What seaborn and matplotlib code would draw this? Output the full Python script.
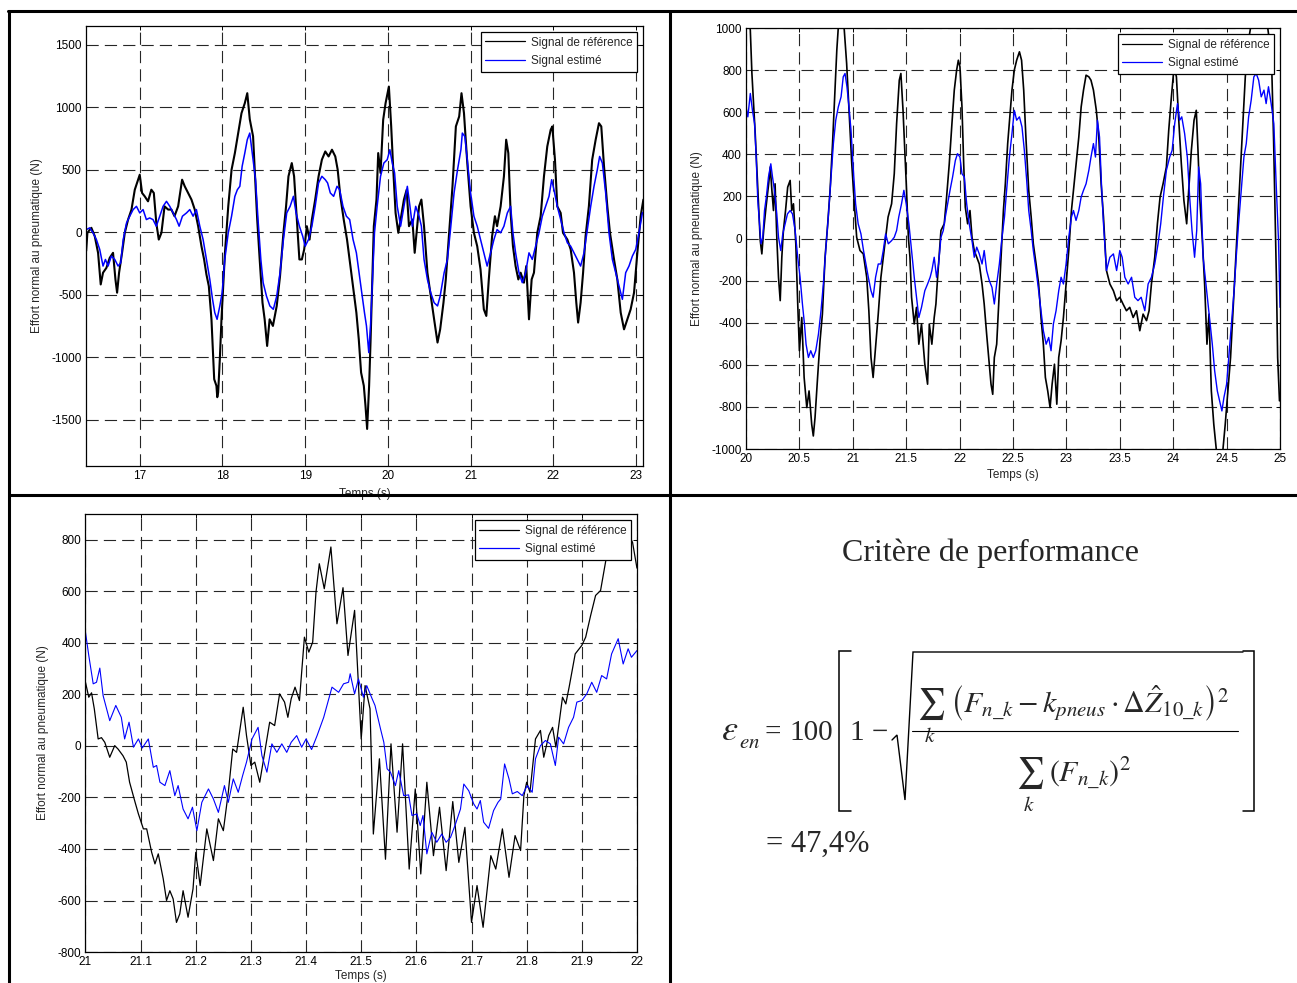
import numpy as np
import matplotlib
matplotlib.use("Agg")
import matplotlib.pyplot as plt
from matplotlib.lines import Line2D
import seaborn as sns

sns.set_style("white")
plt.rcParams['font.family'] = ['Liberation Sans', 'DejaVu Sans']
plt.rcParams['axes.unicode_minus'] = False
plt.rcParams['mathtext.fontset'] = 'stix'

LBL_REF = 'Signal de référence'
LBL_EST = 'Signal estimé'
YLABEL = 'Effort normal au pneumatique (N)'
XLABEL = 'Temps (s)'

# ---------------- panel 1 : 16.35 - 23.1 s ----------------
p1_ref_t = [16.352, 16.367, 16.415, 16.456, 16.496, 16.528, 16.556, 16.597, 16.637, 16.677,
            16.706, 16.726, 16.75, 16.786, 16.819, 16.859, 16.9, 16.94, 16.98, 17.0,
            17.028, 17.06, 17.1, 17.14, 17.17, 17.2, 17.23, 17.262, 17.3, 17.343,
            17.383, 17.42, 17.464, 17.512, 17.544, 17.585, 17.625, 17.665, 17.706, 17.746,
            17.778, 17.806, 17.835, 17.867, 17.9, 17.927, 17.937, 17.948, 17.968, 17.988,
            18.03, 18.07, 18.11, 18.15, 18.19, 18.23, 18.27, 18.3, 18.33, 18.37,
            18.39, 18.42, 18.45, 18.484, 18.51, 18.54, 18.57, 18.61, 18.656, 18.696,
            18.737, 18.769, 18.798, 18.838, 18.866, 18.899, 18.93, 18.96, 18.988, 19.02,
            19.053, 19.081, 19.121, 19.162, 19.202, 19.243, 19.283, 19.324, 19.364, 19.393,
            19.425, 19.466, 19.506, 19.547, 19.587, 19.619, 19.648, 19.676, 19.709, 19.729,
            19.749, 19.773, 19.79, 19.81, 19.83, 19.862, 19.883, 19.911, 19.943, 19.972,
            20.012, 20.04, 20.065, 20.093, 20.126, 20.154, 20.194, 20.227, 20.255, 20.296,
            20.324, 20.377, 20.405, 20.437, 20.478, 20.518, 20.559, 20.6, 20.632, 20.672,
            20.7, 20.741, 20.781, 20.822, 20.862, 20.89, 20.92, 20.96, 21.0, 21.04,
            21.08, 21.12, 21.16, 21.19, 21.22, 21.26, 21.294, 21.32, 21.363, 21.403,
            21.43, 21.456, 21.484, 21.512, 21.544, 21.577, 21.605, 21.645, 21.673, 21.706,
            21.738, 21.766, 21.806, 21.847, 21.887, 21.927, 21.968, 21.988, 22.02, 22.048,
            22.089, 22.117, 22.17, 22.21, 22.25, 22.278, 22.3, 22.33, 22.36, 22.39,
            22.43, 22.47, 22.512, 22.552, 22.58, 22.613, 22.653, 22.685, 22.734, 22.774,
            22.815, 22.855, 22.895, 22.935, 22.976, 23.016, 23.056, 23.089]
p1_ref_v = [-150, -5, 35, -32, -165, -418, -324, -285, -205, -165,
            -378, -484, -324, -165, -5, 101, 181, 340, 420, 460,
            314, 287, 247, 340, 314, 74, -59, -5, 207, 181,
            181, 128, 207, 420, 367, 314, 261, 181, 48, -112,
            -218, -338, -431, -697, -1176, -1229, -1320, -1282, -1016, -697,
            -165, 207, 500, 633, 793, 952, 1032, 1112, 904, 767,
            500, 101, -218, -564, -697, -910, -697, -750, -590, -351,
            -5, 207, 447, 553, 447, 101, -218, -218, -138, 48,
            -59, 101, 261, 447, 580, 646, 606, 660, 606, 500,
            287, 101, -59, -271, -484, -644, -857, -1123, -1229, -1388,
            -1574, -1229, -883, -431, 48, 261, 633, 474, 899, 1032,
            1165, 846, 500, 154, -5, 101, 261, 340, 48, 101,
            -165, 207, 261, 48, -324, -511, -697, -883, -777, -564,
            -378, -5, 367, 846, 926, 1112, 952, 553, 207, -5,
            -112, -298, -617, -670, -378, -32, 128, 48, 207, 447,
            740, 633, 154, -112, -271, -378, -324, -404, -271, -697,
            -378, -324, -5, 128, 447, 686, 819, 846, 580, 207,
            154, -5, -59, -138, -324, -564, -723, -564, -324, -32,
            207, 580, 740, 872, 846, 527, 207, -5, -218, -378,
            -644, -777, -697, -617, -484, -165, 128, 261]

p1_est_t = [16.355, 16.395, 16.435, 16.476, 16.516, 16.556, 16.585, 16.617, 16.657, 16.698,
            16.738, 16.77, 16.8, 16.84, 16.879, 16.92, 16.96, 17.0, 17.04, 17.08,
            17.12, 17.16, 17.2, 17.242, 17.282, 17.323, 17.363, 17.403, 17.444, 17.476,
            17.516, 17.565, 17.605, 17.645, 17.685, 17.726, 17.766, 17.806, 17.847, 17.88,
            17.907, 17.935, 17.968, 17.996, 18.028, 18.07, 18.11, 18.15, 18.18, 18.21,
            18.238, 18.27, 18.3, 18.33, 18.37, 18.4, 18.43, 18.464, 18.492, 18.532,
            18.573, 18.615, 18.656, 18.696, 18.737, 18.777, 18.818, 18.858, 18.89, 18.93,
            18.97, 19.0, 19.04, 19.081, 19.121, 19.162, 19.202, 19.243, 19.271, 19.304,
            19.344, 19.385, 19.417, 19.457, 19.498, 19.538, 19.579, 19.619, 19.652, 19.684,
            19.717, 19.741, 19.769, 19.79, 19.81, 19.838, 19.87, 19.911, 19.951, 19.992,
            20.024, 20.053, 20.081, 20.113, 20.154, 20.194, 20.235, 20.267, 20.296, 20.336,
            20.377, 20.405, 20.437, 20.478, 20.518, 20.559, 20.6, 20.632, 20.68, 20.72,
            20.761, 20.8, 20.842, 20.883, 20.9, 20.93, 20.96, 21.0, 21.04, 21.08,
            21.12, 21.16, 21.2, 21.242, 21.282, 21.32, 21.363, 21.403, 21.444, 21.484,
            21.512, 21.544, 21.585, 21.625, 21.665, 21.706, 21.746, 21.786, 21.827, 21.867,
            21.907, 21.948, 21.98, 22.008, 22.048, 22.089, 22.13, 22.17, 22.21, 22.25,
            22.29, 22.33, 22.371, 22.411, 22.452, 22.492, 22.532, 22.56, 22.593, 22.633,
            22.673, 22.714, 22.754, 22.794, 22.835, 22.875, 22.915, 22.956, 22.996, 23.036,
            23.077, 23.089]
p1_est_v = [21, 35, -5, -59, -138, -271, -218, -271, -191, -218,
            -271, -245, -59, 74, 128, 181, 207, 154, 181, 101,
            114, 101, 48, 128, 207, 247, 207, 154, 101, 48,
            128, 154, 181, 128, 181, 48, -59, -218, -378, -537,
            -644, -697, -590, -484, -218, -5, 128, 287, 340, 367,
            527, 633, 740, 793, 580, 420, 101, -218, -404, -511,
            -590, -617, -511, -324, -59, 154, 207, 287, 154, 48,
            -32, -112, -59, 48, 207, 394, 447, 420, 394, 314,
            287, 367, 340, 207, 128, 101, -59, -165, -324, -484,
            -644, -750, -963, -750, -431, -5, 207, 447, 553, 580,
            660, 553, 474, 207, 48, 207, 367, 207, 48, 207,
            128, 48, -218, -378, -484, -564, -590, -511, -324, -218,
            48, 314, 500, 660, 793, 766, 580, 314, 128, 48,
            -59, -165, -271, -165, -59, 21, -5, 48, 154, 207,
            -5, -165, -324, -404, -324, -165, -218, -112, -5, 128,
            207, 287, 420, 340, 207, 101, -5, -85, -112, -165,
            -218, -271, -165, 21, 207, 367, 500, 606, 553, 314,
            -5, -218, -324, -431, -537, -324, -271, -191, -138, -5,
            154, 160]

# ---------------- panel 2 : 20 - 25 s ----------------
p2_ref_t = [20.0, 20.025, 20.04, 20.055, 20.086, 20.117, 20.133, 20.148, 20.165, 20.187,
            20.212, 20.227, 20.242, 20.257, 20.272, 20.288, 20.304, 20.32, 20.335, 20.35,
            20.37, 20.39, 20.413, 20.428, 20.444, 20.466, 20.484, 20.5, 20.522, 20.544,
            20.569, 20.59, 20.615, 20.63, 20.646, 20.67, 20.693, 20.715, 20.74, 20.765,
            20.787, 20.81, 20.827, 20.85, 20.87, 20.895, 20.91, 20.92, 20.942, 20.964,
            20.99, 21.014, 21.036, 21.067, 21.098, 21.13, 21.15, 21.17, 21.19, 21.213,
            21.238, 21.263, 21.285, 21.307, 21.33, 21.363, 21.388, 21.41, 21.435, 21.45,
            21.47, 21.488, 21.503, 21.52, 21.535, 21.55, 21.575, 21.596, 21.618, 21.643,
            21.674, 21.7, 21.716, 21.74, 21.762, 21.778, 21.794, 21.825, 21.856, 21.878,
            21.903, 21.928, 21.95, 21.972, 21.988, 22.003, 22.022, 22.038, 22.053, 22.075,
            22.097, 22.116, 22.137, 22.16, 22.184, 22.21, 22.23, 22.253, 22.272, 22.294,
            22.31, 22.325, 22.347, 22.366, 22.388, 22.41, 22.428, 22.45, 22.472, 22.49,
            22.512, 22.534, 22.56, 22.58, 22.6, 22.622, 22.647, 22.67, 22.69, 22.716,
            22.74, 22.762, 22.784, 22.803, 22.825, 22.847, 22.866, 22.888, 22.91, 22.928,
            22.95, 22.972, 22.997, 23.022, 23.047, 23.066, 23.09, 23.116, 23.138, 23.16,
            23.184, 23.21, 23.23, 23.253, 23.28, 23.303, 23.325, 23.347, 23.375, 23.407,
            23.44, 23.47, 23.5, 23.53, 23.562, 23.593, 23.625, 23.656, 23.687, 23.718,
            23.75, 23.774, 23.796, 23.827, 23.852, 23.877, 23.905, 23.936, 23.958, 23.983,
            24.008, 24.03, 24.05, 24.076, 24.1, 24.126, 24.145, 24.17, 24.195, 24.216,
            24.232, 24.248, 24.273, 24.294, 24.316, 24.335, 24.357, 24.38, 24.403, 24.43,
            24.45, 24.466, 24.487, 24.512, 24.537, 24.56, 24.584, 24.606, 24.63, 24.653,
            24.675, 24.7, 24.724, 24.76, 24.8, 24.85, 24.88, 24.9, 24.924, 24.94,
            24.953, 24.966, 24.978, 24.995]
p2_ref_v = [1100, 1050, 990, 784, 498, 165, -10, -73, 38, 149,
            260, 340, 229, 133, 260, 6, -184, -295, -89, 38,
            133, 244, 276, 133, 165, -25, -311, -533, -375, -660,
            -803, -724, -883, -938, -851, -660, -486, -359, -89, 70,
            229, 451, 641, 895, 1050, 1100, 1040, 990, 832, 609,
            355, 165, 6, -57, -73, -184, -343, -565, -660, -517,
            -359, -184, -89, 6, 102, 165, 308, 546, 752, 784,
            609, 403, 229, 6, -89, -279, -406, -327, -502, -406,
            -597, -692, -406, -502, -375, -311, -184, 38, 70, 197,
            355, 546, 705, 800, 847, 816, 625, 355, 149, 70,
            133, 6, -57, -89, -121, -216, -311, -454, -565, -692,
            -740, -565, -502, -311, -89, 133, 260, 451, 594, 705,
            800, 847, 887, 847, 705, 467, 229, 102, -25, -121,
            -216, -375, -502, -660, -724, -803, -692, -597, -787, -565,
            -486, -375, -216, -57, 133, 229, 355, 482, 625, 705,
            776, 768, 752, 705, 609, 482, 260, 102, -152, -216,
            -248, -295, -279, -311, -343, -327, -375, -343, -438, -359,
            -390, -343, -216, -89, 70, 197, 260, 340, 514, 673,
            816, 768, 578, 355, 181, 70, 229, 419, 562, 609,
            419, 197, -10, -216, -502, -359, -724, -883, -1000, -1100,
            -1120, -1000, -883, -724, -565, -343, -121, 102, 324, 546,
            768, 927, 1000, 1080, 1100, 1080, 1020, 943, 784, 467,
            149, -184, -565, -771]

p2_est_t = [20.0, 20.017, 20.04, 20.06, 20.08, 20.095, 20.11, 20.126, 20.14, 20.157,
            20.173, 20.19, 20.21, 20.232, 20.248, 20.266, 20.288, 20.304, 20.325, 20.344,
            20.366, 20.388, 20.413, 20.435, 20.46, 20.484, 20.506, 20.528, 20.547, 20.562,
            20.584, 20.606, 20.63, 20.653, 20.678, 20.702, 20.724, 20.746, 20.77, 20.796,
            20.818, 20.84, 20.864, 20.89, 20.91, 20.927, 20.945, 20.964, 20.983, 21.005,
            21.026, 21.05, 21.076, 21.1, 21.123, 21.145, 21.17, 21.19, 21.213, 21.238,
            21.263, 21.285, 21.307, 21.332, 21.363, 21.388, 21.41, 21.43, 21.456, 21.478,
            21.5, 21.525, 21.55, 21.575, 21.596, 21.618, 21.643, 21.674, 21.7, 21.724,
            21.74, 21.762, 21.784, 21.803, 21.825, 21.847, 21.866, 21.888, 21.91, 21.934,
            21.96, 21.98, 22.003, 22.022, 22.044, 22.066, 22.09, 22.116, 22.137, 22.16,
            22.184, 22.21, 22.23, 22.253, 22.278, 22.303, 22.325, 22.347, 22.372, 22.397,
            22.42, 22.44, 22.466, 22.49, 22.512, 22.534, 22.56, 22.584, 22.606, 22.628,
            22.647, 22.67, 22.69, 22.716, 22.74, 22.762, 22.784, 22.81, 22.834, 22.856,
            22.878, 22.903, 22.928, 22.95, 22.972, 22.997, 23.022, 23.047, 23.066, 23.09,
            23.116, 23.138, 23.16, 23.184, 23.21, 23.23, 23.253, 23.272, 23.29, 23.31,
            23.328, 23.347, 23.375, 23.407, 23.44, 23.47, 23.5, 23.522, 23.547, 23.578,
            23.61, 23.64, 23.67, 23.7, 23.734, 23.765, 23.796, 23.827, 23.858, 23.883,
            23.908, 23.936, 23.967, 23.99, 24.014, 24.04, 24.06, 24.08, 24.107, 24.132,
            24.154, 24.176, 24.2, 24.22, 24.238, 24.257, 24.28, 24.3, 24.32, 24.34,
            24.366, 24.388, 24.413, 24.434, 24.456, 24.475, 24.5, 24.52, 24.544, 24.57,
            24.59, 24.612, 24.637, 24.662, 24.684, 24.706, 24.73, 24.755, 24.777, 24.8,
            24.824, 24.85, 24.87, 24.892, 24.917, 24.942, 24.964, 24.986, 25.0]
p2_est_v = [625, 578, 689, 609, 546, 387, 181, 70, -25, 6,
            133, 197, 292, 355, 292, 229, 117, 6, -57, 22,
            70, 117, 133, 117, 38, -89, -184, -311, -406, -502,
            -565, -533, -565, -533, -454, -343, -216, -57, 102, 292,
            451, 562, 625, 673, 768, 784, 721, 625, 514, 324,
            165, 70, 22, -57, -121, -184, -248, -279, -184, -121,
            -121, -57, 22, -25, -10, 6, 38, 102, 165, 229,
            165, 70, -57, -184, -279, -375, -327, -248, -216, -184,
            -152, -89, -184, -121, 6, 38, 102, 165, 229, 292,
            371, 403, 387, 308, 292, 165, 70, -10, -89, -41,
            -73, -121, -57, -152, -200, -232, -311, -216, -121, 6,
            102, 229, 387, 498, 609, 562, 578, 530, 419, 276,
            133, 38, -57, -152, -248, -343, -438, -502, -470, -533,
            -406, -343, -248, -184, -216, -121, 6, 102, 133, 86,
            133, 197, 229, 260, 324, 387, 451, 387, 562, 482,
            260, 70, -152, -89, -73, -152, -57, -89, -184, -216,
            -184, -279, -295, -279, -343, -216, -184, -121, -25, 70,
            197, 324, 387, 419, 546, 641, 562, 578, 498, 387,
            197, 38, -89, 38, 340, 260, -89, -184, -279, -375,
            -502, -628, -724, -771, -819, -755, -692, -565, -406, -248,
            -89, 70, 229, 387, 451, 578, 657, 768, 784, 752,
            673, 705, 641, 721, 641, 546, 260, -10, -327]

# ---------------- panel 3 : 21 - 22 s ----------------
p3_ref_t = [21.0, 21.006, 21.011, 21.016, 21.023, 21.029, 21.035, 21.044, 21.053, 21.059,
            21.068, 21.074, 21.08, 21.09, 21.096, 21.105, 21.111, 21.12, 21.126, 21.132,
            21.141, 21.147, 21.153, 21.159, 21.165, 21.171, 21.177, 21.186, 21.195, 21.2,
            21.208, 21.22, 21.232, 21.241, 21.25, 21.259, 21.267, 21.274, 21.286, 21.292,
            21.3, 21.307, 21.316, 21.325, 21.334, 21.343, 21.352, 21.361, 21.367, 21.373,
            21.38, 21.388, 21.397, 21.405, 21.412, 21.418, 21.424, 21.433, 21.445, 21.456,
            21.467, 21.476, 21.488, 21.5, 21.507, 21.516, 21.522, 21.533, 21.544, 21.554,
            21.565, 21.575, 21.587, 21.598, 21.608, 21.619, 21.631, 21.642, 21.654, 21.666,
            21.677, 21.688, 21.7, 21.71, 21.721, 21.735, 21.744, 21.756, 21.768, 21.779,
            21.789, 21.795, 21.8, 21.806, 21.816, 21.825, 21.831, 21.84, 21.847, 21.853,
            21.865, 21.871, 21.877, 21.888, 21.9, 21.907, 21.916, 21.925, 21.934, 21.943,
            21.955, 21.965, 21.975, 21.985, 21.992, 22.0]
p3_ref_v = [247, 189, 206, 144, 27, 32, 14, -44, 1, -12,
            -38, -63, -141, -219, -264, -322, -322, -413, -458, -419,
            -516, -600, -562, -594, -685, -652, -562, -665, -555, -413,
            -542, -322, -445, -283, -329, -180, -12, -25, 150, 40,
            -76, -63, -141, -25, 92, 79, 202, 170, 111, 183,
            228, 176, 422, 364, 403, 597, 707, 610, 772, 474,
            614, 351, 526, 27, 234, 144, -342, -50, -440, 8,
            -335, 8, -478, -167, -497, -141, -426, -238, -484, -216,
            -452, -316, -685, -542, -704, -426, -478, -322, -510, -348,
            -406, -193, -141, -180, 27, 60, -44, 40, 72, -5,
            189, 163, 228, 357, 390, 422, 506, 584, 603, 713,
            840, 870, 860, 820, 790, 690]

p3_est_t = [21.0, 21.006, 21.014, 21.02, 21.026, 21.032, 21.044, 21.055, 21.065, 21.071,
            21.079, 21.087, 21.096, 21.103, 21.114, 21.123, 21.129, 21.135, 21.144, 21.153,
            21.162, 21.168, 21.177, 21.186, 21.194, 21.202, 21.211, 21.223, 21.232, 21.241,
            21.252, 21.259, 21.268, 21.277, 21.285, 21.292, 21.302, 21.313, 21.32, 21.329,
            21.338, 21.347, 21.356, 21.365, 21.373, 21.383, 21.392, 21.4, 21.41, 21.42,
            21.432, 21.447, 21.459, 21.468, 21.477, 21.48, 21.488, 21.495, 21.504, 21.51,
            21.52, 21.525, 21.535, 21.541, 21.547, 21.553, 21.562, 21.568, 21.577, 21.586,
            21.592, 21.601, 21.607, 21.612, 21.619, 21.628, 21.637, 21.646, 21.654, 21.662,
            21.671, 21.68, 21.686, 21.695, 21.704, 21.71, 21.716, 21.722, 21.731, 21.74,
            21.748, 21.753, 21.76, 21.768, 21.774, 21.783, 21.792, 21.801, 21.81, 21.816,
            21.825, 21.834, 21.843, 21.852, 21.858, 21.867, 21.876, 21.885, 21.891, 21.9,
            21.909, 21.918, 21.927, 21.936, 21.945, 21.954, 21.966, 21.975, 21.984, 21.99,
            22.0]
p3_est_v = [441, 351, 241, 247, 302, 195, 98, 157, 111, 27,
            92, -5, 27, -8, 27, -83, -76, -141, -154, -96,
            -193, -154, -245, -283, -238, -329, -219, -167, -206, -258,
            -154, -219, -128, -180, -115, -63, 27, 72, -38, -102,
            8, -25, 8, -25, 14, 40, -5, 27, -14, 40,
            111, 228, 208, 241, 247, 280, 202, 260, 189, 234,
            182, 157, 66, 14, -89, -102, -154, -96, -193, -190,
            -270, -264, -309, -270, -419, -335, -374, -342, -374, -355,
            -303, -245, -148, -174, -225, -245, -212, -296, -320, -251,
            -219, -206, -70, -128, -186, -177, -193, -154, -180, -50,
            1, 21, 8, -76, 34, 8, 72, 111, 170, 176,
            202, 247, 208, 273, 260, 357, 416, 318, 377, 344,
            370]

W, H = 1297, 983


def draw_panel(ax, t_ref, v_ref, t_est, v_est, xlim, ylim, xticks, yticks,
               lw_ref=0.9, lw_est=0.8, xpad=4):
    sns.lineplot(x=t_ref, y=v_ref, ax=ax, color='black', lw=lw_ref, sort=False,
                 errorbar=None, label=LBL_REF)
    sns.lineplot(x=t_est, y=v_est, ax=ax, color='#0000ff', lw=lw_est, sort=False,
                 errorbar=None, label=LBL_EST)
    ax.set_xlim(*xlim)
    ax.set_ylim(*ylim)
    ax.set_xticks(xticks)
    ax.set_yticks(yticks)
    ax.set_xticklabels([f'{v:g}' for v in xticks])
    ax.set_yticklabels([f'{v:g}' for v in yticks])
    ax.grid(True, color='0.15', linestyle=(0, (11, 5.5)), linewidth=0.8)
    ax.tick_params(direction='in', top=True, right=True, length=3, width=0.7,
                   labelsize=8.5, pad=3, colors='black')
    for sp in ax.spines.values():
        sp.set_color('black')
        sp.set_linewidth(0.9)
    ax.set_xlabel(XLABEL, fontsize=8.5, labelpad=xpad)
    ax.set_ylabel(YLABEL, fontsize=8.5, labelpad=6)
    leg = ax.legend(loc='upper right', fontsize=8.5, frameon=True, fancybox=False,
                    framealpha=1, edgecolor='black', handlelength=3.4,
                    handletextpad=0.45, borderaxespad=0.5, borderpad=0.4,
                    labelspacing=0.55)
    leg.get_frame().set_linewidth(0.9)
    for h in leg.get_lines():
        h.set_linewidth(0.9)


def px(x, y):
    return x / W, 1 - y / H


def seg(points, lw):
    xs = [p[0] / W for p in points]
    ys = [1 - p[1] / H for p in points]
    fig.add_artist(Line2D(xs, ys, transform=fig.transFigure, color='black', lw=lw,
                          solid_joinstyle='miter', zorder=5))


fig = plt.figure(figsize=(W / 100, H / 100), dpi=100)

ax1 = fig.add_axes([0.0663, 0.526, 0.4295, 0.4476])
draw_panel(ax1, p1_ref_t, p1_ref_v, p1_est_t, p1_est_v, (16.35, 23.085), (-1870, 1650),
           [17, 18, 19, 20, 21, 22, 23], [-1500, -1000, -500, 0, 500, 1000, 1500],
           lw_ref=1.5, lw_est=1.1, xpad=4)

ax2 = fig.add_axes([0.5752, 0.5432, 0.4117, 0.4283])
draw_panel(ax2, p2_ref_t, p2_ref_v, p2_est_t, p2_est_v, (20, 25), (-1000, 1000),
           [20, 20.5, 21, 21.5, 22, 22.5, 23, 23.5, 24, 24.5, 25],
           [-1000, -800, -600, -400, -200, 0, 200, 400, 600, 800, 1000],
           lw_ref=1.2, lw_est=1.0, xpad=3)

ax3 = fig.add_axes([0.0659, 0.0315, 0.4252, 0.4456])
draw_panel(ax3, p3_ref_t, p3_ref_v, p3_est_t, p3_est_v, (21, 22), (-800, 900),
           [21, 21.1, 21.2, 21.3, 21.4, 21.5, 21.6, 21.7, 21.8, 21.9, 22],
           [-800, -600, -400, -200, 0, 200, 400, 600, 800], xpad=1.5)

# frame lines of the table layout
for xs, ys in [([8 / W, 1.0], [0.9888, 0.9888]),
               ([0.0069, 0.0069], [0.0, 0.9888]),
               ([0.5162, 0.5162], [0.0, 0.9888]),
               ([0.0069, 1.0], [0.4964, 0.4964])]:
    fig.add_artist(Line2D(xs, ys, transform=fig.transFigure, color='black', lw=2.2, zorder=20))

# ---- performance criterion panel ----
serif = ['Liberation Serif', 'DejaVu Serif']
fig.text(*px(990, 553), 'Critère de performance', fontsize=23, ha='center', va='center',
         family=serif)

fs = 21
fig.text(*px(721, 740), r'$\varepsilon$', fontsize=26, ha='left', va='baseline')
fig.text(*px(739, 748), r'$en$', fontsize=15, ha='left', va='baseline')
fig.text(*px(765, 740), '=', fontsize=fs, ha='left', va='baseline', family=serif)
fig.text(*px(789, 740), '100', fontsize=fs, ha='left', va='baseline', family=serif)
fig.text(*px(850, 740), '1 \u2212', fontsize=fs, ha='left', va='baseline', family=serif)

# brackets
seg([(851, 651), (839, 651), (839, 811), (851, 811)], 1.1)
seg([(1243, 651), (1254, 651), (1254, 811), (1243, 811)], 1.1)
# square root sign and fraction bar
seg([(892, 740), (897, 735), (905, 800), (913, 652), (1243, 652)], 1.0)
seg([(912, 731), (1238, 731)], 0.8)

# numerator
fig.text(*px(931, 687), r'$\sum_{k}$', fontsize=22, ha='center', va='top')
fig.text(*px(950, 713),
         r'$\left(F_{n\_k}-k_{pneus}\cdot\Delta\hat{Z}_{10\_k}\right)^{2}$',
         fontsize=21.5, ha='left', va='baseline')
# denominator
fig.text(*px(1030, 756), r'$\sum_{k}$', fontsize=22, ha='center', va='top')
fig.text(*px(1049, 782), r'$\left(F_{n\_k}\right)^{2}$', fontsize=21.5, ha='left',
         va='baseline')

fig.text(*px(766, 852), '= 47,4%', fontsize=22, ha='left', va='baseline', family=serif)

plt.savefig('out.png', dpi=100, facecolor='white')
